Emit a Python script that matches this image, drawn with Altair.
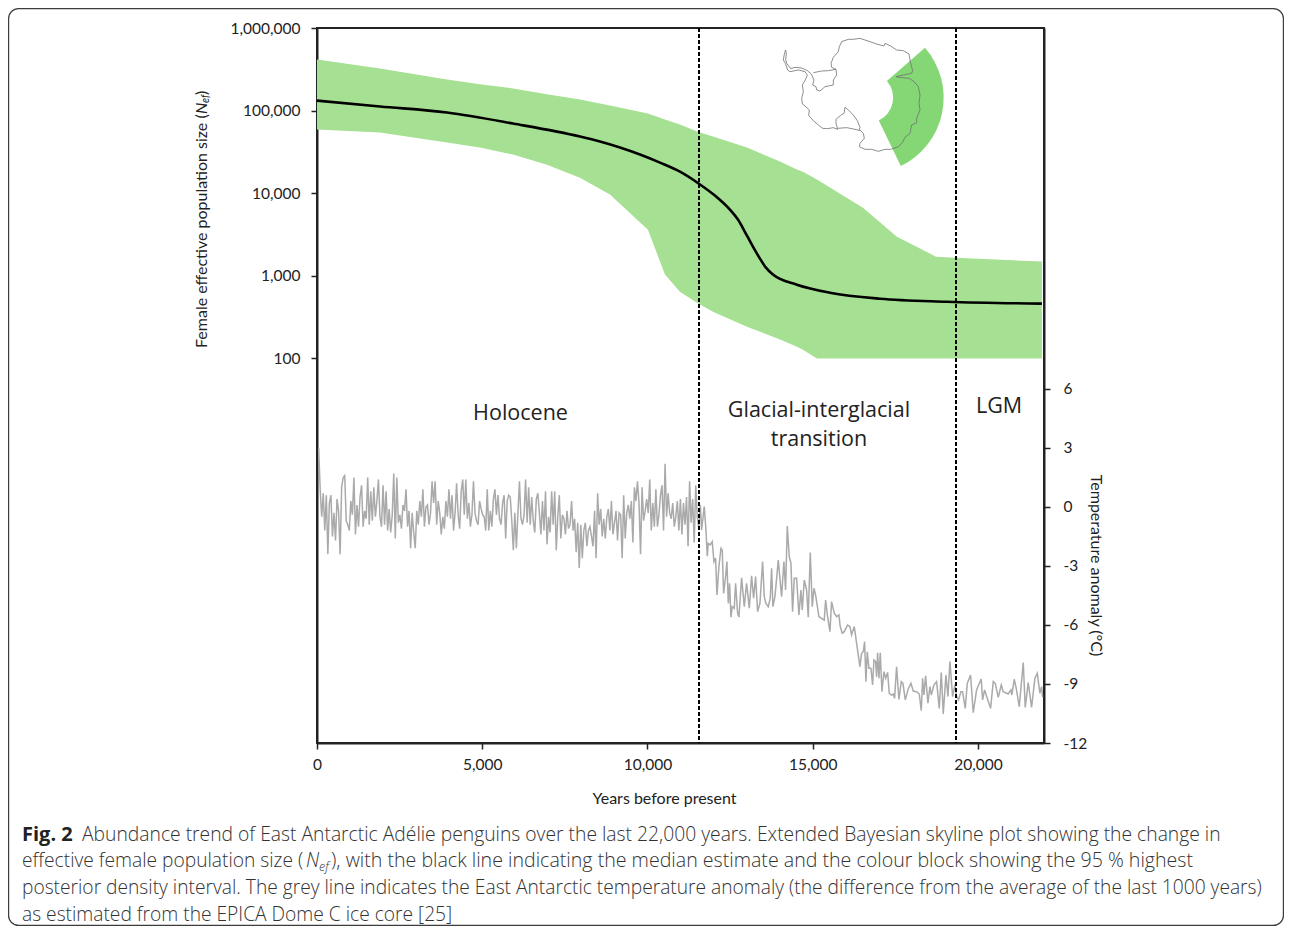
import altair as alt
import numpy as np
import pandas as pd

# ---------- population (extended Bayesian skyline) ----------
band_years = [0, 1906, 3933, 4932, 5930, 6959, 7958, 8865, 10015, 10530, 10983, 11498, 11982, 13011,
              14009, 14523, 14705, 15129, 15522, 16520, 17549, 18729, 19334, 21936]
band_upper = [415000, 323000, 237000, 209000, 185000, 158000, 136000, 115000, 92000, 77800, 67700, 55600, 48400, 35600,
              24100, 19300, 18200, 14600, 11700, 6670, 2970, 1700, 1650, 1480]
band_lower = [58900, 54100, 40900, 35600, 29300, 22100, 15400, 9590, 3610, 1030, 640, 471, 366, 241,
              168, 138, 127, 99, 99, 99, 99, 99, 99, 99]
median_years = [0, 1906, 3933, 5930, 7958, 8563, 9168, 9773, 10378, 10983, 11558, 12042, 12496, 12738,
                13011, 13192, 13404, 13585, 13797, 14523, 15522, 17035, 19062, 21936]
median_values = [132000, 112000, 94600, 69600, 48400, 42100, 35600, 29300, 23400, 18200, 13000, 9330, 6310, 4780,
                 3050, 2250, 1610, 1250, 1030, 778, 622, 526, 484, 458]
boundaries = [11560, 19337]

# ---------- temperature anomaly (EPICA Dome C) ----------
holocene_temps = [
    3.0,0.9,-0.5,0.7,-1.2,0.6,-2.4,0.2,0.6,-1.5,-0.3,-1.7,0.4,-0.2,-2.4,1.0,
    1.5,1.6,-0.7,-0.9,-1.2,0.3,-0.4,1.5,-1.4,0.1,-1.0,0.5,1.1,-1.0,-0.2,-0.6,
    1.5,-0.9,0.8,-0.7,1.0,-0.5,0.3,1.4,-0.5,-1.0,1.1,-0.9,0.8,-1.2,-0.1,-1.3,
    -0.4,1.7,-1.6,1.5,-0.8,-0.4,-1.1,0.1,-0.2,0.9,-1.0,-0.2,-2.1,-0.3,-1.3,-2.1,
    -0.2,-0.9,0.3,-0.5,0.9,-1.0,0.0,0.1,-0.9,-0.3,1.3,0.2,1.3,-0.9,0.3,-0.3,-1.4,-0.5,
    -1.1,0.3,-0.5,0.9,-0.6,0.6,-1.2,-0.3,1.2,-0.4,-1.1,0.8,1.4,-0.4,1.4,-0.6,0.2,-1.0,
    -0.4,1.3,-0.3,-0.7,-0.9,0.3,-0.1,-0.4,-0.5,-1.2,0.9,-1.2,-0.2,-1.0,0.4,0.9,-0.4,0.6,
    -0.6,-0.9,0.2,0.6,-1.6,0.3,0.6,0.5,-0.7,-2.2,-0.3,-2.1,-0.3,1.3,-0.6,-0.9,-0.4,1.4,
    -0.8,1.0,-0.9,0.5,-0.7,-1.3,0.4,0.7,-0.3,-1.4,0.3,-1.2,0.8,-1.9,-0.5,-1.3,0.8,-0.9,
    0.8,-2.2,-0.5,0.6,-1.6,-0.4,-0.6,-1.4,-0.2,-1.1,
    -0.9,0.3,-1.2,-0.6,-2.3,-0.8,-3.1,-0.9,-2.6,-1.2,-0.8,-2.0,-1.2,-1.0,-1.5,-2.0,-0.2,-2.6,
    0.7,-0.9,-0.1,-1.5,-0.6,-1.6,-0.5,-0.1,-1.2,0.3,-1.4,-0.8,-0.2,-1.7,-0.3,-0.4,-2.6,0.6,
    -1.6,-0.3,0.1,-0.6,0.3,-1.8,1.0,0.3,1.3,0.2,-2.4,1.0,-0.7,-0.2,0.4,-0.3,1.4,-1.2,0.2,-1.0,
    0.9,-1.0,-0.4,0.6,1.1,-1.2,2.2,-0.5,0.7,-0.3,-0.6,0.2,-1.0,-0.5,0.3,-1.2,0.4,-1.4,0.2,
    -0.9,0.5,-2.0,1.3,-0.8,0.4,-1.8,1.1,-0.5,-1.1,0.1,
]
holocene_years = [float(v) for v in np.linspace(50, 11600, len(holocene_temps))]
transition_years = [11639,11719,11770,11810,11840,11901,11961,12012,12062,12103,12163,12224,12264,12304,12365,12405,
    12446,12486,12526,12567,12627,12667,12728,12768,12849,12930,13000,13081,13152,13212,13273,13333,13404,13485,
    13535,13585,13656,13716,13757,13797,13858,13959,14059,14130,14180,14231,14291,14342,14392,14443,14513,14584,
    14644,14685,14745,14816,14866,14927,14987,15038,15088,15189,15270,15350,15391,15451,15522,15572,15653,15724,
    15794,15834,15895,15955,16056,16127,16177,16258]
transition_temps = [-1.17,0.02,-1.17,-2.5,-1.85,-1.93,-1.76,-2.78,-2.6,-4.47,-3.03,-2.1,-2.2,-4.4,-3.54,-2.78,
    -4.9,-3.88,-5.6,-5.07,-5.15,-3.88,-5.4,-5.6,-3.6,-5.07,-3.88,-5.15,-3.5,-4.64,-3.54,-5.32,-4.9,-2.78,
    -4.56,-4.9,-5.07,-4.64,-3.12,-5.07,-4.56,-2.7,-4.56,-2.78,-4.22,-0.97,-2.52,-2.86,-5.32,-3.63,-3.63,-5.49,
    -4.22,-5.24,-3.71,-4.22,-5.6,-2.32,-5.07,-4.13,-4.47,-5.58,-5.66,-5.75,-4.73,-5.58,-6.34,-4.81,-5.4,-5.58,
    -5.49,-6.08,-6.42,-6.34,-6.0,-6.08,-6.5,-6.08]
glacial_years = [16430,16480,16531,16571,16612,16652,16702,16763,16813,16854,16904,16934,16965,17005,17045,17096,
    17156,17207,17267,17318,17388,17439,17479,17539,17610,17681,17731,17802,17892,17973,18044,18145,18225,18286,
    18326,18366,18417,18488,18548,18588,18669,18750,18830,18891,18952,19032,19093,19153,19234,19305,19355,19415,
    19486,19536,19617,19678,19778,19859,19960,20021,20101,20142,20202,20283,20384,20464,20525,20616,20707,20767,
    20918,20999,21029,21100,21160,21251,21372,21432,21523,21624,21725,21796,21876,21927,21957]
glacial_temps = [-8.12,-7.44,-7.36,-6.85,-8.88,-7.36,-8.2,-8.2,-9.05,-7.78,-7.86,-8.63,-7.41,-8.71,-7.41,-9.39,
    -8.37,-8.71,-8.41,-9.47,-9.56,-9.51,-9.73,-8.12,-9.78,-8.88,-8.97,-9.81,-9.25,-8.97,-9.36,-9.39,-9.51,-10.36,
    -8.71,-9.56,-8.59,-9.98,-9.13,-9.56,-9.05,-8.88,-10.24,-8.42,-10.52,-8.54,-9.64,-7.86,-9.64,-9.05,-9.64,-9.81,
    -9.39,-9.39,-10.24,-8.97,-8.54,-10.46,-9.3,-9.05,-8.75,-9.81,-9.3,-9.73,-10.24,-8.88,-8.97,-9.68,-9.05,-9.39,
    -9.51,-9.3,-9.56,-8.76,-9.22,-10.15,-7.91,-10.19,-8.93,-10.19,-8.71,-8.46,-9.47,-9.13,-9.68]

# ---------- inset map of Antarctica (map units) ----------
coast_u = [124,112,95,75,62,50,47,49,47,43,40,46,53,60,85,105,112,106,97,100,95,97,105,118,116,130,145,158,172,190,203,198,198,212,222,225,233,250,262,270,
           268,280,283,270,268,285,305,325,345,362,385,397,405,420,425,440,440,450,447,450,445,432,418,395,378,400,425,428,422,417,400,380,362,345,342,320,300,285,270,250,235,215,208,205,190,183,185,198,200,190,190,165,150,140,138,128,132,124]
coast_v = [132,122,114,112,116,100,88,72,60,72,90,100,120,125,120,125,135,150,165,185,205,222,228,240,256,272,285,295,296,293,298,280,268,256,250,232,238,255,272,292,
           298,310,325,340,350,358,358,364,358,358,350,338,322,310,285,278,265,240,220,195,170,155,145,143,140,135,130,122,100,72,62,60,48,40,48,42,35,30,25,28,28,35,50,65,82,100,112,118,135,150,165,170,183,180,170,165,150,132]
ronne_u = [130, 155, 175, 198]
ronne_v = [128, 123, 122, 118]
ross_u = [203, 230, 255, 272]
ross_v = [295, 293, 298, 302]
sector_u = [293]
sector_v = [203]

# ---------- axes ----------
x_ticks = [0, 5000, 10000, 15000, 20000]
nef_ticks = [100, 1000, 10000, 100000, 1000000]
temp_ticks = [-12, -9, -6, -3, 0, 3, 6]

X_DOM = [0, 22000]
NEF_DOM = [10 ** -2.661, 1e6]
TEMP_DOM = [-12, 24.35]
W, H = 727, 715
LEFT, TOP = 309, 20
FONT = "Lato"
CAP = "Open Sans"
INK = "#222222"
CAP_SIZE = 19.2


def x_plain():
    return alt.X("year:Q", scale=alt.Scale(domain=X_DOM, nice=False, zero=False), axis=None)


def t(text, px, py, font=CAP, size=CAP_SIZE, color="#333333", **kw):
    """text placed by page position"""
    return alt.Chart().mark_text(text=text, font=font, fontSize=size, color=color, align=kw.pop("align", "left"),
                                 baseline=kw.pop("baseline", "alphabetic"), **kw).encode(
        x=alt.value(px - LEFT - 8), y=alt.value(py - TOP - 8))


band_df = pd.DataFrame({"year": band_years, "upper": band_upper, "lower": band_lower})
median_df = pd.DataFrame({"year": median_years, "nef": median_values})
temp_df = pd.DataFrame({"year": holocene_years + transition_years + glacial_years,
                        "temp": holocene_temps + transition_temps + glacial_temps})
bound_df = pd.DataFrame({"year": boundaries})
coast_df = pd.DataFrame({"u": coast_u, "v": coast_v, "idx": list(range(len(coast_u)))})
ronne_df = pd.DataFrame({"u": ronne_u, "v": ronne_v})
ross_df = pd.DataFrame({"u": ross_u, "v": ross_v})
sector_df = pd.DataFrame({"u": sector_u, "v": sector_v})

band = alt.Chart(band_df).mark_area(color="#a6e092", opacity=1).encode(
    x=alt.X("year:Q", scale=alt.Scale(domain=X_DOM, nice=False, zero=False),
            axis=alt.Axis(values=x_ticks, title="Years before present", grid=False,
                          labelExpr="format(datum.value, ',')", labelFlush=False, labelOverlap=False,
                          labelFont=FONT, labelFontSize=15.5, labelColor=INK, labelPadding=8,
                          titleFont=FONT, titleFontSize=16, titleColor=INK, titleFontWeight="normal",
                          titleX=347, titleY=47, domainColor=INK, domainWidth=2, tickColor=INK, tickWidth=1.5, tickSize=6)),
    y=alt.Y("upper:Q", scale=alt.Scale(type="log", domain=NEF_DOM, nice=False, clamp=True),
            axis=alt.Axis(values=nef_ticks, format=",", title=None, grid=False, orient="left",
                          labelFont=FONT, labelFontSize=15.5, labelColor=INK, labelPadding=11,
                          domainColor=INK, domainWidth=2, tickColor=INK, tickWidth=1.5, tickSize=6)),
    y2="lower:Q")

median = alt.Chart(median_df).mark_line(color="black", strokeWidth=2.6, interpolate="monotone").encode(
    x=x_plain(),
    y=alt.Y("nef:Q", scale=alt.Scale(type="log", domain=NEF_DOM, nice=False), axis=None))

temp = alt.Chart(temp_df).mark_line(color="#aaaaaa", strokeWidth=1.5).encode(
    x=x_plain(),
    y=alt.Y("temp:Q", scale=alt.Scale(domain=TEMP_DOM, nice=False, zero=False),
            axis=alt.Axis(values=temp_ticks, orient="right", title="Temperature anomaly (°C)", grid=False,
                          labelExpr="'' + datum.value",
                          labelFont=FONT, labelFontSize=15.5, labelColor=INK, labelPadding=13,
                          titleFont=FONT, titleFontSize=16, titleColor=INK, titleFontWeight="normal",
                          titleAngle=90, titleX=43, titleY=537, domainColor=INK, domainWidth=2,
                          tickColor=INK, tickWidth=1.5, tickSize=6)))

bounds = alt.Chart(bound_df).mark_rule(color="black", strokeWidth=2, strokeDash=[4, 2]).encode(x=x_plain())

map_x = alt.Scale(domain=[0, 570], range=[453, 643])
map_y = alt.Scale(domain=[0, 450], range=[2, 152])
mx = alt.X("u:Q", scale=map_x, axis=None)
my = alt.Y("v:Q", scale=map_y, axis=None)
sector = alt.Chart(sector_df).mark_arc(color="#85d776", radius=76, radius2=25.5, theta=0.855, theta2=2.69).encode(x=mx, y=my)
coast = alt.Chart(coast_df).mark_line(color="#707070", strokeWidth=0.8).encode(x=mx, y=my, order="idx:Q")
ronne = alt.Chart(ronne_df).mark_line(color="#707070", strokeWidth=0.8).encode(x=mx, y=my)
ross = alt.Chart(ross_df).mark_line(color="#707070", strokeWidth=0.8).encode(x=mx, y=my)

frame = alt.Chart().mark_rect(fillOpacity=0, stroke="#3c3c3c", strokeWidth=1.2, cornerRadius=10).encode(
    x=alt.value(8.6 - LEFT - 8), x2=alt.value(1283.4 - LEFT - 8),
    y=alt.value(8.6 - TOP - 8), y2=alt.value(925.4 - TOP - 8))

labels = [
    t("Holocene", 520.5, 420, size=21.5, color="#222222", align="center"),
    t("Glacial-interglacial", 819, 417, size=21.5, color="#222222", align="center"),
    t("transition", 819, 446, size=21.5, color="#222222", align="center"),
    t("LGM", 999, 413, size=21.5, color="#222222", align="center"),
]

# rotated y title with italic N and subscript
yt = [
    t("Female effective population size (", 207, 348, font=FONT, size=16, color=INK, angle=270),
    t("N", 207, 114, font=FONT, size=16, color=INK, angle=270, fontStyle="italic"),
    t("ef", 209, 103, font=FONT, size=10.5, color=INK, angle=270, fontStyle="italic"),
    t(")", 207, 95, font=FONT, size=16, color=INK, angle=270),
]

cap = [
    t("Fig. 2", 22, 841, size=20, fontWeight="bold", color="#222222"),
    t("Abundance trend of East Antarctic Adélie penguins over the last 22,000 years. Extended Bayesian skyline plot showing the change in", 82, 841, size=19.3, fontWeight=300),
    t("effective female population size (", 22, 867, fontWeight=300),
    t("N", 306, 867, fontStyle="italic", fontWeight=300),
    t("ef", 319, 871, size=12.5, fontStyle="italic", fontWeight=300),
    t("), with the black line indicating the median estimate and the colour block showing the 95 % highest", 331, 867, size=19.6, fontWeight=300),
    t("posterior density interval. The grey line indicates the East Antarctic temperature anomaly (the difference from the average of the last 1000 years)", 22, 894, fontWeight=300),
    t("as estimated from the EPICA Dome C ice core [25]", 22, 921, fontWeight=300),
]

chart = alt.layer(frame, band, sector, coast, ronne, ross, median, temp, bounds, *labels, *yt, *cap).resolve_scale(
    x="independent", y="independent"
).properties(
    width=W, height=H,
    padding={"left": LEFT, "top": TOP, "right": 240, "bottom": 183},
    autosize=alt.AutoSizeParams(type="none"),
).configure_view(stroke=INK, strokeWidth=2)

chart.save("out.html", embed_options={"renderer": "svg", "actions": False})
